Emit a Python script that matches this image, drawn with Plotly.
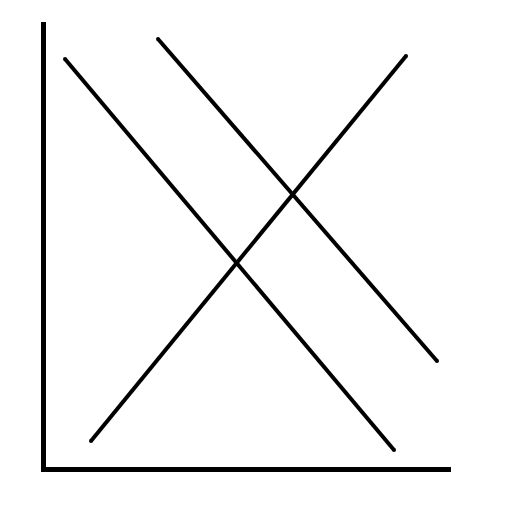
import plotly.graph_objects as go

# endpoints of each curve, in plot units (origin at the axes corner)
demand_1_x = [22, 351]
demand_1_y = [410, 19]
demand_2_x = [115, 394]
demand_2_y = [430, 108]
supply_x = [48, 363]
supply_y = [28, 413]

fig = go.Figure()
for xs, ys in [(demand_1_x, demand_1_y), (demand_2_x, demand_2_y), (supply_x, supply_y)]:
    fig.add_trace(
        go.Scatter(
            x=xs,
            y=ys,
            mode="lines+markers",
            line={"color": "black", "width": 4},
            marker={"color": "black", "size": 4},
            hoverinfo="skip",
        )
    )

# page body adds an 8px margin, so the figure is 504px and shifted
fig.update_layout(
    width=504,
    height=504,
    showlegend=False,
    plot_bgcolor="white",
    paper_bgcolor="white",
    margin={"l": 38, "r": 61, "t": 14, "b": 45},
)
fig.update_xaxes(
    range=[3, 408], showline=True, linecolor="black", linewidth=4.5,
    showgrid=False, zeroline=False, showticklabels=False, ticks="",
)
fig.update_yaxes(
    range=[2, 447], showline=True, linecolor="black", linewidth=4.5,
    showgrid=False, zeroline=False, showticklabels=False, ticks="",
)

fig.write_html("out.html")
